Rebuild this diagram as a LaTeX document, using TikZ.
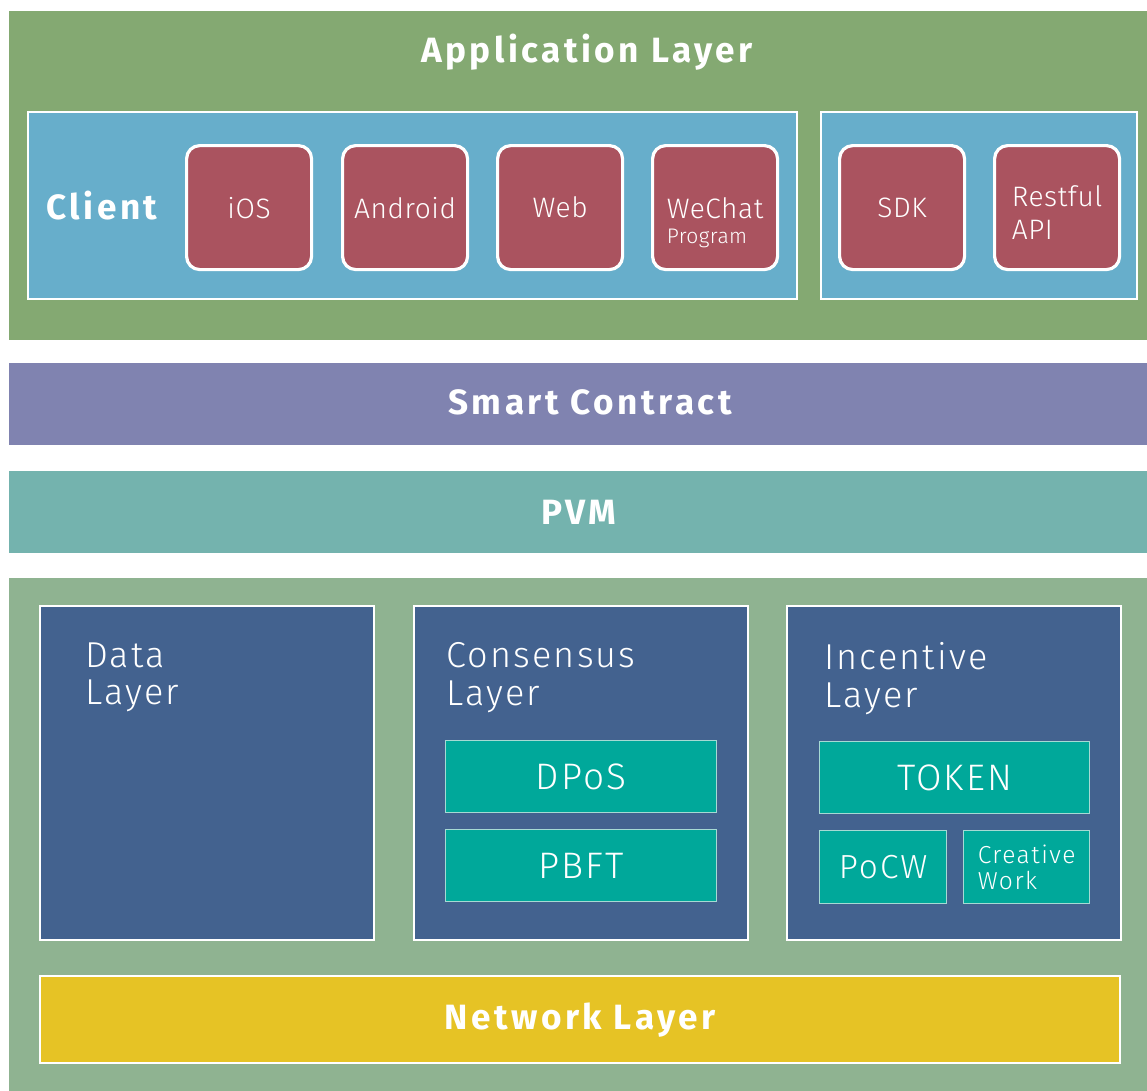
\documentclass[tikz,border=0pt]{standalone}
\usepackage{fontspec}
\setmainfont{Fira Sans}
\newfontfamily\wide{Fira Sans}[LetterSpace=10]
\newfontfamily\thin{Fira Sans Light}[LetterSpace=6]
\newfontfamily\thinapp{Fira Sans Light}[LetterSpace=2]
\definecolor{appgreen}{HTML}{84A972}
\definecolor{clientblue}{HTML}{67AECB}
\definecolor{appred}{HTML}{AA535F}
\definecolor{contractpurple}{HTML}{8083B0}
\definecolor{pvmteal}{HTML}{74B3AE}
\definecolor{basegreen}{HTML}{8FB391}
\definecolor{layerblue}{HTML}{43628F}
\definecolor{chipteal}{HTML}{00A89A}
\definecolor{chipline}{HTML}{A6DAD4}
\definecolor{netyellow}{HTML}{E6C325}
\newcommand{\px}{0.02cm}
\tikzset{
  panel/.style={fill=#1, draw=white, line width=1.2pt, anchor=north west, inner sep=0pt},
  title/.style={text=white, font=\wide\bfseries\fontsize{20}{24}\selectfont},
  app/.style={fill=appred, draw=white, line width=1.8pt, rounded corners=7.5pt,
    minimum width=125*\px, minimum height=124*\px, inner sep=0pt, anchor=north west,
    align=left, text=white, font=\thinapp\fontsize{16}{18.5}\selectfont},
  chip/.style={fill=chipteal, draw=chipline, line width=0.8pt, anchor=north west,
    inner sep=0pt, align=left, text=white, font=\thin\fontsize{21}{24}\selectfont},
  caption/.style={anchor=north west, align=left, inner sep=0pt, text=white,
    font=\thin\fontsize{20.5}{21.5}\selectfont},
}
\begin{document}
\begin{tikzpicture}[x=\px,y=-\px]
  \useasboundingbox (0,0) rectangle (1147,1090);
  % application layer
  \node[panel=appgreen, draw=none, minimum width=1139*\px, minimum height=329*\px] (applayer) at (8,10) {};
  \node[title] (apptitle) at (587,52) {Application Layer};
  \node[panel=clientblue, minimum width=769*\px, minimum height=187*\px] (clientbox) at (27,111) {};
  \node[panel=clientblue, minimum width=316*\px, minimum height=187*\px] (apibox) at (820,111) {};
  \node[title] (client) at (102,206) {Client};
  \foreach \x/\name/\label in {185/ios/iOS, 341/android/Android, 496/web/Web, 838/sdk/SDK}
    \node[app] (\name) at (\x,144) {\label};
  \node[app] (wechat) at (651,144)
    {\raisebox{0pt}[\height][0pt]{\begin{tabular}[t]{@{}l@{}}WeChat\\[-4.5pt]{\fontsize{12}{14}\selectfont Program}\end{tabular}}};
  \node[app] (restful) at (993,144)
    {\raisebox{0pt}[\dimexpr\height+10pt\relax][\depth]{\begin{tabular}{@{}l@{}}Restful\\API\end{tabular}}};
  % contract and vm
  \node[panel=contractpurple, draw=none, minimum width=1139*\px, minimum height=82*\px] (contract) at (8,362) {};
  \node[title] (contracttitle) at (590,402) {Smart Contract};
  \node[panel=pvmteal, draw=none, minimum width=1139*\px, minimum height=82*\px,
    title] (pvm) at (8,470) {PVM};
  % core layers
  \node[panel=basegreen, draw=none, minimum width=1139*\px, minimum height=513*\px] (core) at (8,577) {};
  \foreach \x/\name in {39/data, 413/consensus, 786/incentive}
    \node[panel=layerblue, minimum width=334*\px, minimum height=334*\px] (\name) at (\x,605) {};
  \node[caption] (datalabel) at (85,642) {Data\\Layer};
  \node[caption] (consensuslabel) at (446,642) {Consensus\\Layer};
  \node[caption] (incentivelabel) at (824,642) {Incentive\\Layer};
  \node[chip, minimum width=271*\px, minimum height=72*\px] (dpos) at (445,740) {DPoS};
  \node[chip, minimum width=271*\px, minimum height=72*\px] (pbft) at (445,829) {PBFT};
  \node[chip, minimum width=270*\px, minimum height=72*\px] (token) at (819,741) {TOKEN};
  \node[chip, minimum width=127*\px, minimum height=73*\px, font=\thin\fontsize{19}{22}\selectfont] (pocw) at (819,830) {PoCW};
  \node[chip, minimum width=126*\px, minimum height=73*\px, font=\thin\fontsize{14}{15}\selectfont] (creative) at (963,830) {Creative\\Work};
  \node[panel=netyellow, minimum width=1080*\px, minimum height=87*\px, title] (network) at (39,975) {Network Layer};
\end{tikzpicture}
\end{document}
